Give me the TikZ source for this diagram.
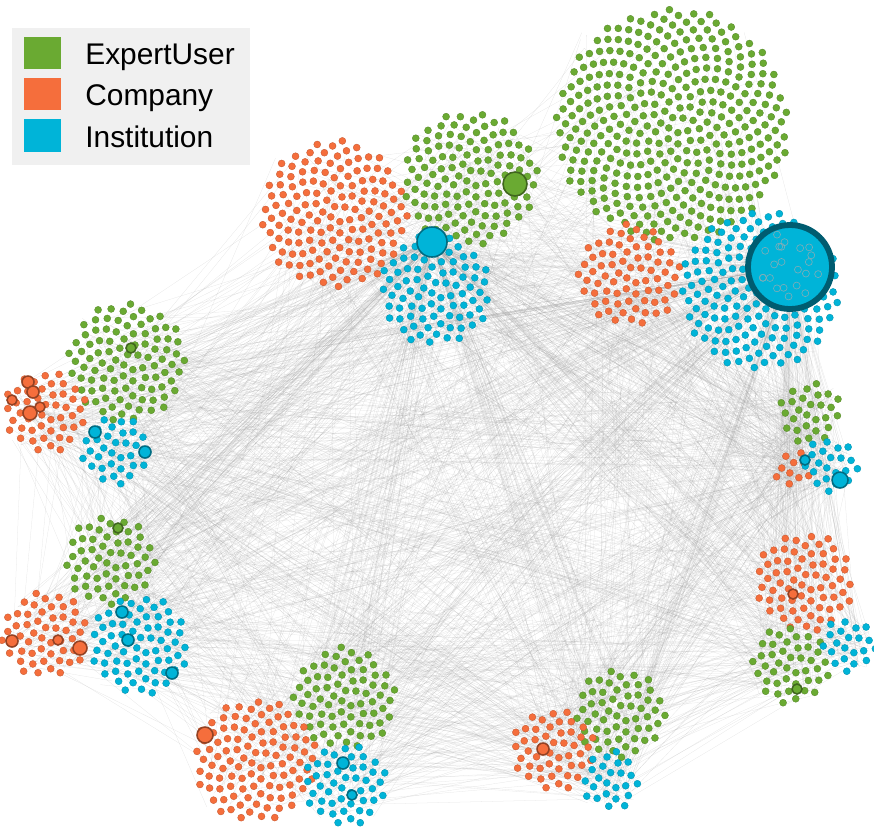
\documentclass[tikz,border=0pt]{standalone}
\usepackage{fontspec}
\setmainfont{Liberation Sans}
\definecolor{expert}{RGB}{106,170,50}
\definecolor{company}{RGB}{245,110,60}
\definecolor{institution}{RGB}{0,180,216}
\definecolor{deepteal}{RGB}{0,92,112}
\definecolor{legendbg}{RGB}{240,240,240}

% cluster data for the edges: x, y, radius (pixels)
\def\CX{334,470,435,672,630,760,127,45,115,810,793,830,110,45,140,345,255,345,620,553,610,805,790,848}
\def\CY{214,178,290,125,275,290,362,412,450,412,470,465,560,635,645,698,760,785,713,750,780,582,665,645}
\def\CR{74,68,56,117,52,80,60,42,35,32,20,28,46,44,50,52,62,42,46,42,30,50,40,28}

% one sunflower of dots
\newcommand\blob[4]{%
  \pgfmathtruncatemacro\nn{(#3/6.1)^2}
  \foreach \k in {1,...,\nn}{
    \pgfmathsetmacro\rr{6.1*sqrt(\k-0.5)}
    \pgfmathsetmacro\ff{\k*0.381966}
    \pgfmathsetmacro\aa{360*(\ff-floor(\ff))}
    \fill[#4, shift={(#1,#2)}] (\aa:\rr) circle (3.5);
  }}

\tikzset{
  edge/.style={black!40, line width=0.15pt, opacity=0.25},
  expertdot/.style={fill=expert, draw=expert!80!black, line width=0.2pt},
  companydot/.style={fill=company, draw=company!80!black, line width=0.2pt},
  institutiondot/.style={fill=institution, draw=institution!80!black, line width=0.2pt},
  hub/.style={draw=#1!60!black, line width=0.9pt},
  legendtext/.style={anchor=base west, inner sep=0pt, font=\fontsize{17}{20}\selectfont}
}

\begin{document}
\begin{tikzpicture}[x=0.02cm, y=-0.02cm]
\useasboundingbox (0,0) rectangle (874,829);

% edges
\pgfmathsetseed{11}
\foreach \e in {1,...,1400}{
  \pgfmathtruncatemacro\i{random(0,23)}
  \pgfmathtruncatemacro\j{random(0,23)}
  \pgfmathsetmacro\xa{{\CX}[\i]+0.8*{\CR}[\i]*(2*rnd-1)}
  \pgfmathsetmacro\ya{{\CY}[\i]+0.8*{\CR}[\i]*(2*rnd-1)}
  \pgfmathsetmacro\xb{{\CX}[\j]+0.8*{\CR}[\j]*(2*rnd-1)}
  \pgfmathsetmacro\yb{{\CY}[\j]+0.8*{\CR}[\j]*(2*rnd-1)}
  \draw[edge] (\xa,\ya) -- (\xb,\yb);
}
% edges out of the two hubs
\foreach \e in {1,...,250}{
  \pgfmathtruncatemacro\j{random(0,23)}
  \pgfmathsetmacro\xb{{\CX}[\j]+0.8*{\CR}[\j]*(2*rnd-1)}
  \pgfmathsetmacro\yb{{\CY}[\j]+0.8*{\CR}[\j]*(2*rnd-1)}
  \draw[edge] (790,267) -- (\xb,\yb);
  \draw[edge] (432,242) -- (\xb,\yb);
}

% clusters
\foreach \x/\y/\r/\c in {
  334/214/74/company, 470/178/68/expert, 435/290/56/institution,
  672/125/117/expert, 630/275/52/company, 760/290/80/institution,
  127/362/60/expert, 45/412/42/company, 115/450/35/institution,
  810/412/32/expert, 793/470/20/company, 830/465/28/institution,
  110/560/46/expert, 45/635/44/company, 140/645/50/institution,
  345/698/52/expert, 255/760/62/company, 345/785/42/institution,
  620/713/46/expert, 553/750/42/company, 610/780/30/institution,
  805/582/50/company, 790/665/40/expert, 848/645/28/institution}
  \blob{\x}{\y}{\r}{\c dot};

% larger nodes
\foreach \x/\y/\r/\c in {
  28/382/6/company, 33/392/6/company, 30/413/7/company, 40/407/5/company,
  12/400/5/company, 131/348/5/expert, 95/432/6/institution, 145/452/6/institution,
  80/648/7/company, 12/641/6/company, 58/640/5/company, 172/673/6/institution,
  122/612/6/institution, 128/640/6/institution, 118/528/5/expert,
  205/735/8/company, 343/763/6/institution, 352/795/5/institution,
  543/749/6/company, 793/594/5/company, 840/480/8/institution,
  805/460/5/institution, 797/689/5/expert}
  \fill[\c dot, hub=\c] (\x,\y) circle (\r);

\fill[expertdot, hub=expert] (515,184) circle (12);
\fill[institutiondot, hub=institution] (432,242) circle (15);

% the largest hub
\fill[institution] (790,267) circle (44);
\pgfmathsetseed{5}
\foreach \k in {1,...,22}{
  \pgfmathsetmacro\rr{35*sqrt(rnd)}
  \pgfmathsetmacro\aa{360*rnd}
  \draw[deepteal!50, line width=0.35pt, shift={(790,267)}] (\aa:\rr) circle (3.5);
}
\draw[deepteal, line width=3.3pt] (790,267) circle (42);

% legend
\fill[legendbg] (12,28) rectangle (250,165);
\fill[expert] (24,37) rectangle (61,69);
\fill[company] (24,78) rectangle (61,110);
\fill[institution] (24,119) rectangle (61,152);
\node[legendtext] (lexpert) at (85,64) {ExpertUser};
\node[legendtext] (lcompany) at (85,105) {Company};
\node[legendtext] (linstitution) at (85,147) {Institution};
\end{tikzpicture}
\end{document}
